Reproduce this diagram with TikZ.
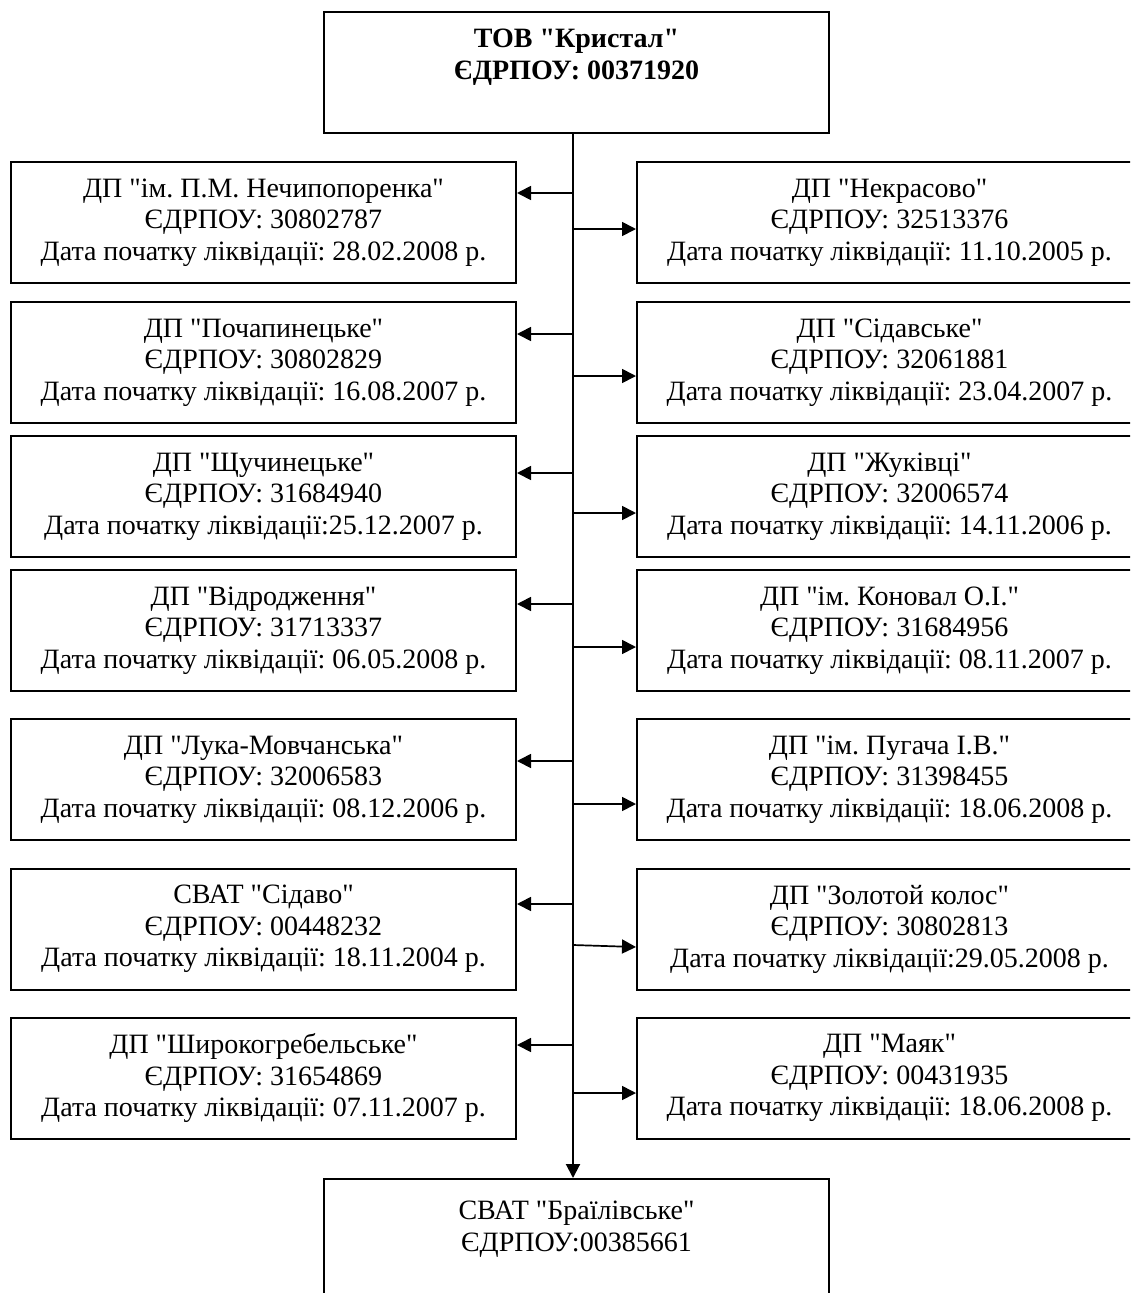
\documentclass[tikz,border=0pt]{standalone}
\usepackage{fontspec}
\newfontfamily\tnr{Liberation Serif}
\usetikzlibrary{arrows.meta}
\frenchspacing
\begin{document}
\begin{tikzpicture}[x=1pt,y=-1pt,
  card/.style={draw, line width=2pt, minimum width=505pt, minimum height=121pt, inner sep=0pt},
  txt/.style={align=center, inner sep=0pt, font=\tnr\fontsize{28}{31.5}\selectfont},
  unit/.style={card, txt},
  branch/.style={line width=1.7pt, -{Triangle[length=14pt,width=14pt]}},
  trunkline/.style={line width=2pt, -{Triangle[length=14pt,width=14pt]}}]
\clip (0,0) rectangle (1130,1293);
\fill[white] (0,0) rectangle (1130,1293);

% parent company
\node[card] (head) at (576.5,72.5) {};
\node[txt, font=\tnr\bfseries\fontsize{28}{31.5}\selectfont] (headtext) at (576.5,57) {ТОВ "Кристал"\\ЄДРПОУ: 00371920};

% successor company
\node[card] (base) at (576.5,1239.5) {};
\node[txt] (basetext) at (576.5,1229) {СВАТ "Браїлівське"\\ЄДРПОУ:00385661};

% subsidiaries, left column
\node[unit] (L1) at (263.5,222.5) {ДП "ім. П.М. Нечипопоренка"\\ЄДРПОУ: 30802787\\Дата початку ліквідації: 28.02.2008 р.};
\node[unit] (L2) at (263.5,362.5) {ДП "Почапинецьке"\\ЄДРПОУ: 30802829\\Дата початку ліквідації: 16.08.2007 р.};
\node[unit] (L3) at (263.5,496.5) {ДП "Щучинецьке"\\ЄДРПОУ: 31684940\\Дата початку ліквідації:25.12.2007 р.};
\node[unit] (L4) at (263.5,630.5) {ДП "Відродження"\\ЄДРПОУ: 31713337\\Дата початку ліквідації: 06.05.2008 р.};
\node[unit] (L5) at (263.5,779.5) {ДП "Лука-Мовчанська"\\ЄДРПОУ: 32006583\\Дата початку ліквідації: 08.12.2006 р.};
\node[unit] (L6) at (263.5,929) {СВАТ "Сідаво"\\ЄДРПОУ: 00448232\\Дата початку ліквідації: 18.11.2004 р.};
\node[unit] (L7) at (263.5,1078) {ДП "Широкогребельське"\\ЄДРПОУ: 31654869\\Дата початку ліквідації: 07.11.2007 р.};

% subsidiaries, right column
\node[unit] (R1) at (889.5,222.5) {ДП "Некрасово"\\ЄДРПОУ: 32513376\\Дата початку ліквідації: 11.10.2005 р.};
\node[unit] (R2) at (889.5,362.5) {ДП "Сідавське"\\ЄДРПОУ: 32061881\\Дата початку ліквідації: 23.04.2007 р.};
\node[unit] (R3) at (889.5,496.5) {ДП "Жуківці"\\ЄДРПОУ: 32006574\\Дата початку ліквідації: 14.11.2006 р.};
\node[unit] (R4) at (889.5,630.5) {ДП "ім. Коновал О.І."\\ЄДРПОУ: 31684956\\Дата початку ліквідації: 08.11.2007 р.};
\node[unit] (R5) at (889.5,779.5) {ДП "ім. Пугача І.В."\\ЄДРПОУ: 31398455\\Дата початку ліквідації: 18.06.2008 р.};
\node[unit] (R6) at (889.5,929) {ДП "Золотой колос"\\ЄДРПОУ: 30802813\\Дата початку ліквідації:29.05.2008 р.};
\node[unit] (R7) at (889.5,1078) {ДП "Маяк"\\ЄДРПОУ: 00431935\\Дата початку ліквідації: 18.06.2008 р.};

% main vertical trunk
\coordinate (tx) at (573,0);
\draw[trunkline] (head.south -| tx) -- (base.north -| tx);

% branch points on the trunk
\coordinate (a1l) at (573,193);  \coordinate (a1r) at (573,229);
\coordinate (a2l) at (573,334);  \coordinate (a2r) at (573,376);
\coordinate (a3l) at (573,473);  \coordinate (a3r) at (573,513);
\coordinate (a4l) at (573,604);  \coordinate (a4r) at (573,647);
\coordinate (a5l) at (573,761);  \coordinate (a5r) at (573,804);
\coordinate (a6l) at (573,904);  \coordinate (a6r) at (573,945);
\coordinate (a7l) at (573,1045); \coordinate (a7r) at (573,1093);

\foreach \i in {1,...,7} {
  \draw[branch] (a\i l) -- (a\i l -| L\i.east);
}
\foreach \i in {1,2,3,4,5,7} {
  \draw[branch] (a\i r) -- (a\i r -| R\i.west);
}
\draw[branch] (a6r) -- ([yshift=-2pt]a6r -| R6.west);
\end{tikzpicture}
\end{document}
